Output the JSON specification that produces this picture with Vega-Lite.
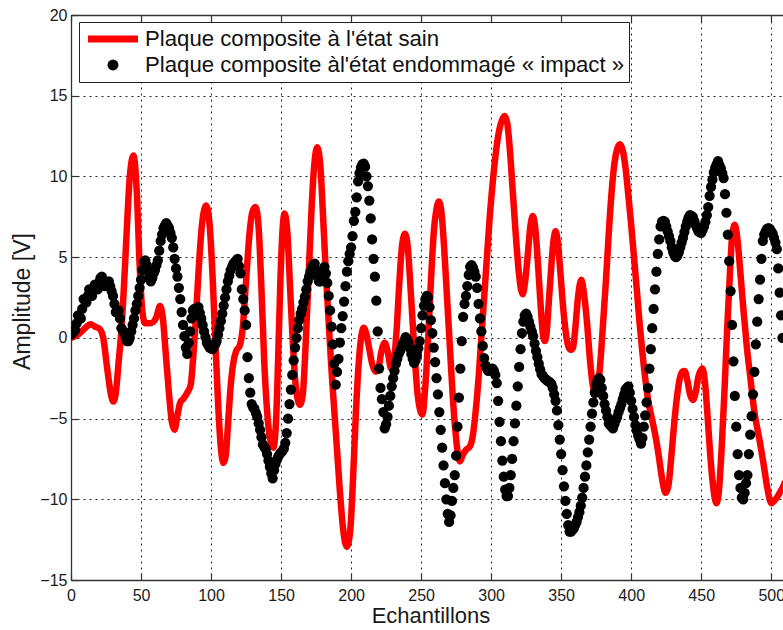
{
"$schema": "https://vega.github.io/schema/vega-lite/v6.json",
"width": 712, "height": 565,
"autosize": {"type": "none"},
"padding": {"left": 71, "top": 15, "right": 0, "bottom": 50},
"background": "white",
"config": {"view": {"stroke": null}, "font": "Liberation Sans",
 "axis": {"labelFont": "Liberation Sans", "titleFont": "Liberation Sans", "labelColor": "#1a1a1a", "titleColor": "#1a1a1a", "titleFontWeight": "normal", "domainColor": "#333", "domainWidth": 1.3, "tickColor": "#333", "tickWidth": 1.2}},
"datasets": {
"sain": [
{"s":0,"v":0},{"s":5,"v":0.2},{"s":10,"v":0.6},{"s":14,"v":0.85},{"s":17,"v":0.7},{"s":20.5,"v":0.55},{"s":23,"v":0},{"s":26,"v":-2},{"s":28.5,"v":-3.5},{"s":30.2,"v":-3.95},{"s":32,"v":-3.4},{"s":34,"v":-1.5},{"s":36,"v":0.5},{"s":38,"v":3.5},{"s":40,"v":7},{"s":42,"v":10},{"s":44.6,"v":11.3},{"s":47,"v":9},{"s":49,"v":4.5},{"s":51,"v":1.6},{"s":53,"v":0.9},{"s":56,"v":0.9},{"s":59,"v":1},{"s":61,"v":1.3},{"s":63.5,"v":1.97},{"s":65.5,"v":1.3},{"s":67.5,"v":-0.8},{"s":70,"v":-3.5},{"s":72,"v":-5.2},{"s":73.9,"v":-5.7},{"s":76,"v":-4.8},{"s":78,"v":-4},{"s":80,"v":-3.8},{"s":83,"v":-3.4},{"s":85.5,"v":-2.9},{"s":87,"v":-1.5},{"s":89,"v":1},{"s":91,"v":4},{"s":93.5,"v":7},{"s":96.5,"v":8.2},{"s":99,"v":7},{"s":101,"v":4},{"s":103,"v":0},{"s":105,"v":-4},{"s":107,"v":-6.8},{"s":108.8,"v":-7.75},{"s":110.5,"v":-7.3},{"s":112,"v":-5.5},{"s":114,"v":-3},{"s":116,"v":-1.5},{"s":118,"v":-0.8},{"s":120.4,"v":-0.5},{"s":122.5,"v":0.5},{"s":125,"v":3.5},{"s":127.5,"v":6.5},{"s":129.5,"v":7.8},{"s":131.8,"v":8.1},{"s":134,"v":6.8},{"s":136,"v":3},{"s":138,"v":-1.5},{"s":140,"v":-4.5},{"s":142,"v":-6.2},{"s":144.5,"v":-6.8},{"s":146.5,"v":-5},{"s":148,"v":-1},{"s":149.5,"v":3.5},{"s":151,"v":6.6},{"s":152.5,"v":7.7},{"s":154.5,"v":6.5},{"s":156.5,"v":3},{"s":158.5,"v":-0.5},{"s":160.5,"v":-3},{"s":163.5,"v":-4.15},{"s":165.5,"v":-3.5},{"s":167.5,"v":-0.5},{"s":169.5,"v":3.5},{"s":171.5,"v":7.5},{"s":173.5,"v":10.5},{"s":175.8,"v":11.8},{"s":178,"v":10.7},{"s":180,"v":7.5},{"s":182,"v":4},{"s":184,"v":1},{"s":186,"v":-2},{"s":188,"v":-4.5},{"s":190,"v":-7},{"s":192,"v":-9.5},{"s":194,"v":-11.6},{"s":197,"v":-12.95},{"s":199.5,"v":-11.8},{"s":201.5,"v":-8.5},{"s":203.5,"v":-4.5},{"s":205.5,"v":-1.5},{"s":207.5,"v":0.2},{"s":209,"v":0.62},{"s":211,"v":0.2},{"s":213,"v":-0.7},{"s":215,"v":-1.6},{"s":217.5,"v":-2.1},{"s":219.5,"v":-1.9},{"s":221.5,"v":-0.9},{"s":224,"v":-0.3},{"s":226,"v":-0.8},{"s":228.6,"v":-1.9},{"s":230.5,"v":-1.5},{"s":232.5,"v":0.5},{"s":234.5,"v":3.5},{"s":236.5,"v":5.8},{"s":238.5,"v":6.45},{"s":240.5,"v":5.6},{"s":242.5,"v":3},{"s":245,"v":-0.5},{"s":247.5,"v":-3.5},{"s":250.9,"v":-4.75},{"s":253,"v":-3},{"s":255,"v":0},{"s":257,"v":3.5},{"s":259,"v":6.5},{"s":261,"v":8},{"s":262.7,"v":8.45},{"s":264.5,"v":7.8},{"s":266.5,"v":5.5},{"s":268.5,"v":2.5},{"s":270.5,"v":-0.5},{"s":272.5,"v":-3.5},{"s":274.5,"v":-5.8},{"s":276.5,"v":-7.3},{"s":277.8,"v":-7.65},{"s":279.5,"v":-7.3},{"s":282,"v":-6.95},{"s":285,"v":-6.7},{"s":287,"v":-6},{"s":289,"v":-4.5},{"s":291,"v":-2.5},{"s":293,"v":0},{"s":295,"v":2.5},{"s":297,"v":5},{"s":299,"v":7.5},{"s":301,"v":9.5},{"s":303,"v":11.2},{"s":305,"v":12.5},{"s":307,"v":13.3},{"s":309.6,"v":13.75},{"s":311.5,"v":13.3},{"s":313.5,"v":11.5},{"s":315.5,"v":9},{"s":317.5,"v":6.5},{"s":319.5,"v":4.3},{"s":321.3,"v":3},{"s":322.5,"v":2.7},{"s":324,"v":3.3},{"s":326,"v":5},{"s":328,"v":6.9},{"s":329.8,"v":7.55},{"s":331.5,"v":6.8},{"s":333.5,"v":4.5},{"s":335.5,"v":1.8},{"s":337,"v":0.2},{"s":338.3,"v":-0.2},{"s":339.5,"v":0.2},{"s":341,"v":2},{"s":343,"v":4.5},{"s":344.5,"v":6},{"s":346,"v":6.6},{"s":347.5,"v":6},{"s":349.5,"v":4},{"s":351.5,"v":1.8},{"s":353.5,"v":0.2},{"s":355,"v":-0.5},{"s":357,"v":-0.75},{"s":358.5,"v":-0.6},{"s":360,"v":0.5},{"s":362,"v":2.5},{"s":364.4,"v":3.6},{"s":366.5,"v":2.6},{"s":368.5,"v":0.9},{"s":370.5,"v":-1.3},{"s":372.5,"v":-2.9},{"s":374.5,"v":-3.55},{"s":376,"v":-3.2},{"s":378,"v":-1.5},{"s":380,"v":1},{"s":382,"v":3.6},{"s":384,"v":6.5},{"s":386,"v":9},{"s":388,"v":10.8},{"s":390,"v":11.7},{"s":392,"v":12},{"s":394,"v":11.6},{"s":396,"v":10.5},{"s":398,"v":8.8},{"s":400,"v":7},{"s":402,"v":5},{"s":404,"v":3},{"s":406,"v":0.9},{"s":408,"v":-0.9},{"s":410,"v":-2.5},{"s":412,"v":-3.8},{"s":414,"v":-4.7},{"s":416,"v":-5.5},{"s":418,"v":-6.4},{"s":420,"v":-7.5},{"s":422,"v":-8.7},{"s":424.6,"v":-9.6},{"s":426.5,"v":-9.2},{"s":428.5,"v":-7.5},{"s":430.5,"v":-5.5},{"s":432.5,"v":-3.8},{"s":434.5,"v":-2.6},{"s":436.5,"v":-2.1},{"s":438.2,"v":-2.05},{"s":440,"v":-2.6},{"s":442,"v":-3.5},{"s":444.1,"v":-3.85},{"s":446,"v":-3.4},{"s":448,"v":-2.4},{"s":450.8,"v":-1.9},{"s":452.5,"v":-2.6},{"s":454.5,"v":-4.8},{"s":456.5,"v":-7.3},{"s":458.5,"v":-9.2},{"s":460.8,"v":-10.25},{"s":462.5,"v":-9.6},{"s":464.5,"v":-7},{"s":466.5,"v":-3.5},{"s":468.5,"v":0.5},{"s":470.5,"v":4},{"s":472.2,"v":6.4},{"s":474,"v":7},{"s":476,"v":6},{"s":478,"v":4},{"s":480,"v":1.9},{"s":482.5,"v":-0.5},{"s":485,"v":-2.4},{"s":488,"v":-4.6},{"s":491.8,"v":-6.4},{"s":494.5,"v":-7.8},{"s":497,"v":-9.2},{"s":500.1,"v":-10.25},{"s":502,"v":-10.1},{"s":504,"v":-9.9},{"s":506,"v":-9.6},{"s":508,"v":-9.3},{"s":510,"v":-8.9}
],
"endommage": [
{"s":0,"v":0.2},{"s":1,"v":0.3},{"s":2,"v":0.4},{"s":3,"v":0.5},{"s":4,"v":0.9},{"s":5,"v":1.4},{"s":6,"v":1.3},{"s":7,"v":1.2},{"s":8,"v":1.8},{"s":9,"v":2.4},{"s":10,"v":2.3},{"s":11,"v":2.2},{"s":12,"v":2.6},{"s":13,"v":3},{"s":14,"v":2.8},{"s":15,"v":2.6},{"s":16,"v":3},{"s":17,"v":3.3},{"s":18,"v":3.1},{"s":19,"v":3},{"s":20,"v":3.4},{"s":21,"v":3.7},{"s":22,"v":3.8},{"s":23,"v":3.5},{"s":24,"v":3.2},{"s":25,"v":3.3},{"s":26,"v":3.4},{"s":27,"v":3.5},{"s":28,"v":3.2},{"s":29,"v":2.9},{"s":30,"v":2.6},{"s":31,"v":2.1},{"s":32,"v":1.6},{"s":33,"v":1.65},{"s":34,"v":1.7},{"s":35,"v":1.2},{"s":36,"v":0.6},{"s":37,"v":0.45},{"s":38,"v":0.3},{"s":39,"v":0.05},{"s":40,"v":-0.2},{"s":41,"v":-0.2},{"s":42,"v":0},{"s":43,"v":0.4},{"s":44,"v":0.8},{"s":45,"v":1.2},{"s":46,"v":1.7},{"s":47,"v":2.1},{"s":48,"v":2.6},{"s":49,"v":3.1},
{"s":50,"v":3.6},{"s":51,"v":4.2},{"s":52,"v":4.7},{"s":53,"v":4.8},{"s":54,"v":4.5},{"s":55,"v":4.2},{"s":56,"v":3.85},{"s":57,"v":3.5},{"s":58,"v":3.7},{"s":59,"v":4},{"s":60,"v":4.2},{"s":61,"v":4.5},{"s":62,"v":4.8},{"s":63,"v":5.4},{"s":64,"v":6},{"s":65,"v":6.4},{"s":66,"v":6.8},{"s":67,"v":6.95},{"s":68,"v":7.1},{"s":69,"v":6.95},{"s":70,"v":6.8},{"s":71,"v":6.5},{"s":72,"v":6.2},{"s":73,"v":5.6},{"s":74,"v":4.9},{"s":75,"v":4.3},{"s":76,"v":3.8},{"s":77,"v":3.1},{"s":78,"v":2.4},{"s":79,"v":1.6},{"s":80,"v":0.8},{"s":81,"v":0.1},{"s":82,"v":-0.6},{"s":83,"v":-1},{"s":84,"v":-0.3},{"s":85,"v":0.4},{"s":86,"v":1.2},{"s":87,"v":1.7},{"s":88,"v":1.8},{"s":89,"v":1.5},{"s":90,"v":1.7},{"s":91,"v":1.9},{"s":92,"v":1.55},{"s":93,"v":1.2},{"s":94,"v":0.8},{"s":95,"v":0.4},{"s":96,"v":0.05},{"s":97,"v":-0.3},{"s":98,"v":-0.45},{"s":99,"v":-0.6},
{"s":100,"v":-0.65},{"s":101,"v":-0.7},{"s":102,"v":-0.5},{"s":103,"v":-0.4},{"s":104,"v":-0.2},{"s":105,"v":0.2},{"s":106,"v":0.6},{"s":107,"v":1.05},{"s":108,"v":1.5},{"s":109,"v":2},{"s":110,"v":2.5},{"s":111,"v":3},{"s":112,"v":3.5},{"s":113,"v":3.85},{"s":114,"v":4.2},{"s":115,"v":4.4},{"s":116,"v":4.6},{"s":117,"v":4.7},{"s":118,"v":4.8},{"s":119,"v":4.9},{"s":120,"v":4.45},{"s":121,"v":4},{"s":122,"v":3},{"s":123,"v":2.4},{"s":124,"v":1.7},{"s":125,"v":0.8},{"s":126,"v":-1.2},{"s":127,"v":-2.5},{"s":128,"v":-3.4},{"s":129,"v":-4.1},{"s":130,"v":-4.3},{"s":131,"v":-4.4},{"s":132,"v":-4.65},{"s":133,"v":-4.9},{"s":134,"v":-5.3},{"s":135,"v":-5.7},{"s":136,"v":-6.15},{"s":137,"v":-6.6},{"s":138,"v":-6.75},{"s":139,"v":-6.9},{"s":140,"v":-7.2},{"s":141,"v":-7.6},{"s":142,"v":-8},{"s":143,"v":-8.4},{"s":144,"v":-8.7},{"s":145,"v":-8.2},{"s":146,"v":-7.8},{"s":147,"v":-7.55},{"s":148,"v":-7.35},{"s":149,"v":-7.2},
{"s":150,"v":-7.1},{"s":151,"v":-7},{"s":152,"v":-6.85},{"s":153,"v":-6.5},{"s":154,"v":-5.9},{"s":155,"v":-5},{"s":156,"v":-4.1},{"s":157,"v":-3.2},{"s":158,"v":-2.3},{"s":159,"v":-1.4},{"s":160,"v":-0.6},{"s":161,"v":0},{"s":162,"v":0.6},{"s":163,"v":1.1},{"s":164,"v":1.5},{"s":165,"v":1.8},{"s":166,"v":2.2},{"s":167,"v":2.55},{"s":168,"v":3},{"s":169,"v":3.5},{"s":170,"v":3.8},{"s":171,"v":4.1},{"s":172,"v":4.4},{"s":173,"v":4.5},{"s":174,"v":4.6},{"s":175,"v":4.2},{"s":176,"v":3.8},{"s":177,"v":3.5},{"s":178,"v":3.5},{"s":179,"v":3.9},{"s":180,"v":4.15},{"s":181,"v":4.4},{"s":182,"v":4},{"s":183,"v":3.4},{"s":184,"v":2.6},{"s":185,"v":1.7},{"s":186,"v":0.7},{"s":187,"v":-0.4},{"s":188,"v":-1.6},{"s":189,"v":-2.9},{"s":190,"v":-2.1},{"s":191,"v":-1.3},{"s":192,"v":-0.3},{"s":193,"v":0.6},{"s":194,"v":1.35},{"s":195,"v":2.25},{"s":196,"v":3.2},{"s":197,"v":4.1},{"s":198,"v":4.75},{"s":199,"v":5.2},
{"s":200,"v":5.6},{"s":201,"v":6.3},{"s":202,"v":7.25},{"s":203,"v":7.8},{"s":204,"v":8.7},{"s":205,"v":9.7},{"s":206,"v":10.2},{"s":207,"v":10.55},{"s":208,"v":10.75},{"s":209,"v":10.8},{"s":210,"v":10.6},{"s":211,"v":10},{"s":212,"v":9.4},{"s":213,"v":8.5},{"s":214,"v":7.4},{"s":215,"v":6.1},{"s":216,"v":4.9},{"s":217,"v":3.8},{"s":218,"v":2.3},{"s":219,"v":0.4},{"s":220,"v":-1.9},{"s":221,"v":-3.1},{"s":222,"v":-3.8},{"s":223,"v":-4.6},{"s":224,"v":-5.6},{"s":225,"v":-5.35},{"s":226,"v":-4.9},{"s":227,"v":-4.2},{"s":228,"v":-3.6},{"s":229,"v":-3},{"s":230,"v":-2.5},{"s":231,"v":-2.05},{"s":232,"v":-1.6},{"s":233,"v":-1.3},{"s":234,"v":-1},{"s":235,"v":-0.8},{"s":236,"v":-0.6},{"s":237,"v":-0.35},{"s":238,"v":-0.15},{"s":239,"v":0.05},{"s":240,"v":-0.1},{"s":241,"v":-0.3},{"s":242,"v":-0.65},{"s":243,"v":-1},{"s":244,"v":-1.3},{"s":245,"v":-1.55},{"s":246,"v":-1.4},{"s":247,"v":-1.1},{"s":248,"v":-0.65},{"s":249,"v":-0.2},
{"s":250,"v":0.6},{"s":251,"v":1.4},{"s":252,"v":2},{"s":253,"v":2.4},{"s":254,"v":2.6},{"s":255,"v":2.5},{"s":256,"v":1.9},{"s":257,"v":1.1},{"s":258,"v":0.3},{"s":259,"v":-0.6},{"s":260,"v":-1.5},{"s":261,"v":-2.5},{"s":262,"v":-3.5},{"s":263,"v":-4.6},{"s":264,"v":-5.7},{"s":265,"v":-6.8},{"s":266,"v":-7.9},{"s":267,"v":-9},{"s":268,"v":-10},{"s":269,"v":-10.9},{"s":270,"v":-11.4},{"s":271,"v":-11},{"s":272,"v":-10.1},{"s":273,"v":-9.3},{"s":274,"v":-8.5},{"s":275,"v":-7.3},{"s":276,"v":-5.5},{"s":277,"v":-3.7},{"s":278,"v":-1.9},{"s":279,"v":-0.2},{"s":280,"v":1.3},{"s":281,"v":2.1},{"s":282,"v":2.6},{"s":283,"v":3.2},{"s":284,"v":3.9},{"s":285,"v":4.4},{"s":286,"v":4.5},{"s":287,"v":4.35},{"s":288,"v":4.1},{"s":289,"v":3.8},{"s":290,"v":3.1},{"s":291,"v":2.1},{"s":292,"v":1.2},{"s":293,"v":0.4},{"s":294,"v":-0.5},{"s":295,"v":-1.25},{"s":296,"v":-1.7},{"s":297,"v":-1.9},{"s":298,"v":-2.05},{"s":299,"v":-2},
{"s":300,"v":-1.95},{"s":301,"v":-1.9},{"s":302,"v":-2.05},{"s":303,"v":-2.3},{"s":304,"v":-2.8},{"s":305,"v":-3.9},{"s":306,"v":-5.2},{"s":307,"v":-6.4},{"s":308,"v":-7.6},{"s":309,"v":-8.6},{"s":310,"v":-9.4},{"s":311,"v":-9.8},{"s":312,"v":-9.8},{"s":313,"v":-9.3},{"s":314,"v":-8.5},{"s":315,"v":-7.5},{"s":316,"v":-6.4},{"s":317,"v":-5.3},{"s":318,"v":-4.2},{"s":319,"v":-3},{"s":320,"v":-1.8},{"s":321,"v":-0.7},{"s":322,"v":0.3},{"s":323,"v":1},{"s":324,"v":1.4},{"s":325,"v":1.5},{"s":326,"v":1.3},{"s":327,"v":1},{"s":328,"v":0.7},{"s":329,"v":0.4},{"s":330,"v":0.1},{"s":331,"v":-0.35},{"s":332,"v":-0.8},{"s":333,"v":-1.2},{"s":334,"v":-1.6},{"s":335,"v":-1.95},{"s":336,"v":-2.25},{"s":337,"v":-2.35},{"s":338,"v":-2.5},{"s":339,"v":-2.55},{"s":340,"v":-2.65},{"s":341,"v":-2.7},{"s":342,"v":-2.75},{"s":343,"v":-2.85},{"s":344,"v":-3.1},{"s":345,"v":-3.5},{"s":346,"v":-3.9},{"s":347,"v":-4.5},{"s":348,"v":-5.4},{"s":349,"v":-6.3},
{"s":350,"v":-7.2},{"s":351,"v":-8.2},{"s":352,"v":-9.2},{"s":353,"v":-10.1},{"s":354,"v":-10.9},{"s":355,"v":-11.6},{"s":356,"v":-12},{"s":357,"v":-12},{"s":358,"v":-11.9},{"s":359,"v":-11.8},{"s":360,"v":-11.6},{"s":361,"v":-11.4},{"s":362,"v":-11.1},{"s":363,"v":-10.8},{"s":364,"v":-10.4},{"s":365,"v":-9.9},{"s":366,"v":-9.3},{"s":367,"v":-8.6},{"s":368,"v":-7.9},{"s":369,"v":-7.1},{"s":370,"v":-6.3},{"s":371,"v":-5.5},{"s":372,"v":-4.7},{"s":373,"v":-4},{"s":374,"v":-3.4},{"s":375,"v":-2.9},{"s":376,"v":-2.6},{"s":377,"v":-2.5},{"s":378,"v":-2.6},{"s":379,"v":-3.1},{"s":380,"v":-3.6},{"s":381,"v":-4.1},{"s":382,"v":-4.5},{"s":383,"v":-4.9},{"s":384,"v":-5.3},{"s":385,"v":-5.4},{"s":386,"v":-5.5},{"s":387,"v":-5.6},{"s":388,"v":-5.35},{"s":389,"v":-5.1},{"s":390,"v":-4.9},{"s":391,"v":-4.6},{"s":392,"v":-4.35},{"s":393,"v":-4.1},{"s":394,"v":-3.8},{"s":395,"v":-3.5},{"s":396,"v":-3.2},{"s":397,"v":-3.1},{"s":398,"v":-3},{"s":399,"v":-3.4},
{"s":400,"v":-3.9},{"s":401,"v":-4.4},{"s":402,"v":-4.9},{"s":403,"v":-5.4},{"s":404,"v":-5.75},{"s":405,"v":-6.05},{"s":406,"v":-6.3},{"s":407,"v":-6.55},{"s":408,"v":-6.2},{"s":409,"v":-5.5},{"s":410,"v":-4.8},{"s":411,"v":-4},{"s":412,"v":-3.1},{"s":413,"v":-1.9},{"s":414,"v":-0.7},{"s":415,"v":0.6},{"s":416,"v":1.8},{"s":417,"v":3},{"s":418,"v":4.1},{"s":419,"v":5.2},{"s":420,"v":6.1},{"s":421,"v":6.9},{"s":422,"v":7.2},{"s":423,"v":7.25},{"s":424,"v":7.2},{"s":425,"v":6.9},{"s":426,"v":6.6},{"s":427,"v":6.3},{"s":428,"v":6},{"s":429,"v":5.6},{"s":430,"v":5.3},{"s":431,"v":5.1},{"s":432,"v":5},{"s":433,"v":5.1},{"s":434,"v":5.3},{"s":435,"v":5.6},{"s":436,"v":5.9},{"s":437,"v":6.2},{"s":438,"v":6.55},{"s":439,"v":6.9},{"s":440,"v":7.2},{"s":441,"v":7.45},{"s":442,"v":7.6},{"s":443,"v":7.55},{"s":444,"v":7.5},{"s":445,"v":7.25},{"s":446,"v":7},{"s":447,"v":6.8},{"s":448,"v":6.6},{"s":449,"v":6.55},
{"s":450,"v":6.5},{"s":451,"v":6.7},{"s":452,"v":6.9},{"s":453,"v":7.2},{"s":454,"v":7.6},{"s":455,"v":8.1},{"s":456,"v":8.8},{"s":457,"v":9.35},{"s":458,"v":9.8},{"s":459,"v":10.25},{"s":460,"v":10.55},{"s":461,"v":10.75},{"s":462,"v":10.95},{"s":463,"v":10.7},{"s":464,"v":10.5},{"s":465,"v":10.2},{"s":466,"v":9.9},{"s":467,"v":8.9},{"s":468,"v":7.75},{"s":469,"v":6.4},{"s":470,"v":4.75},{"s":471,"v":2.9},{"s":472,"v":0.8},{"s":473,"v":-1.45},{"s":474,"v":-3.6},{"s":475,"v":-5.5},{"s":476,"v":-7.2},{"s":477,"v":-8.5},{"s":478,"v":-9.3},{"s":479,"v":-9.9},{"s":480,"v":-10},{"s":481,"v":-9.6},{"s":482,"v":-9},{"s":483,"v":-8.5},{"s":484,"v":-7.2},{"s":485,"v":-6},{"s":486,"v":-4.85},{"s":487,"v":-3.5},{"s":488,"v":-2.1},{"s":489,"v":-0.4},{"s":490,"v":1},{"s":491,"v":2.4},{"s":492,"v":3.6},{"s":493,"v":4.9},{"s":494,"v":6},{"s":495,"v":6.4},{"s":496,"v":6.6},{"s":497,"v":6.75},{"s":498,"v":6.8},{"s":499,"v":6.75},
{"s":500,"v":6.6},{"s":501,"v":6.45},{"s":502,"v":6.2},{"s":503,"v":5.9},{"s":504,"v":5.5},{"s":505,"v":4.3},{"s":506,"v":2.8},{"s":507,"v":1.4},{"s":508,"v":0}
]
},
"layer": [
{
 "data": {"name": "sain"},
 "mark": {"type": "line", "strokeWidth": 6.5, "interpolate": "monotone", "clip": true},
 "encoding": {
  "x": {"field": "s", "type": "quantitative",
   "scale": {"domain": [0, 508.4], "nice": false, "zero": false},
   "axis": {"orient": "bottom", "values": [0,50,100,150,200,250,300,350,400,450,500], "grid": true, "gridColor": "#222", "gridDash": [2, 4], "gridWidth": 1, "tickSize": -7, "labelPadding": 14, "labelFontSize": 16, "labelFlush": false, "title": "Echantillons", "titleFontSize": 22, "titleX": 359.5, "titleY": 42, "titleBaseline": "alphabetic", "titleAlign": "center"}},
  "y": {"field": "v", "type": "quantitative",
   "scale": {"domain": [-15, 20], "nice": false, "zero": false},
   "axis": {"values": [-15,-10,-5,0,5,10,15,20], "grid": true, "gridColor": "#222", "gridDash": [2, 4], "gridWidth": 1, "tickSize": -7, "labelPadding": 11, "labelFontSize": 16, "labelFlush": false, "title": "Amplitude [V]", "titleFontSize": 23, "titleX": -42, "titleY": 286, "titleBaseline": "alphabetic", "titleAlign": "center", "titleAngle": -90}},
  "color": {"datum": "Plaque composite à l'état sain", "type": "nominal",
   "scale": {"domain": ["Plaque composite à l'état sain", "Plaque composite àl'état endommagé « impact »"], "range": ["#ff0000", "#000000"]},
   "legend": {"orient": "none", "legendX": 8, "legendY": 7, "direction": "vertical", "columns": 1, "title": null,
    "padding": 4, "clipHeight": 26, "rowPadding": 0,
    "strokeColor": "#222", "fillColor": "white", "cornerRadius": 0,
    "symbolType": "stroke", "symbolSize": 2500, "symbolStrokeWidth": 7,
    "labelFont": "Liberation Sans", "labelFontSize": 22.2, "labelColor": "#111", "labelLimit": 700,
    "encode": {
     "symbols": {"update": {
      "x": {"value": 30},
      "shape": {"signal": "datum.index == 0 ? 'stroke' : 'circle'"},
      "size": {"signal": "datum.index == 0 ? 2500 : 120"},
      "fill": {"signal": "datum.index == 0 ? 'transparent' : '#000000'"},
      "stroke": {"signal": "datum.index == 0 ? '#ff0000' : '#000000'"},
      "strokeWidth": {"signal": "datum.index == 0 ? 7 : 0"},
      "opacity": {"value": 1}
     }},
     "labels": {"update": {"x": {"value": 62}}}
    }}
  }
 }
},
{
 "data": {"name": "endommage"},
 "mark": {"type": "point", "filled": true, "size": 105, "opacity": 1, "clip": true},
 "encoding": {
  "x": {"field": "s", "type": "quantitative",
   "axis": {"orient": "top", "values": [0,50,100,150,200,250,300,350,400,450,500], "labels": false, "grid": false, "title": null, "tickSize": -7, "domain": true}},
  "y": {"field": "v", "type": "quantitative"},
  "color": {"datum": "Plaque composite àl'état endommagé « impact »", "type": "nominal"}
 }
}
],
"resolve": {"axis": {"x": "independent"}}
}
